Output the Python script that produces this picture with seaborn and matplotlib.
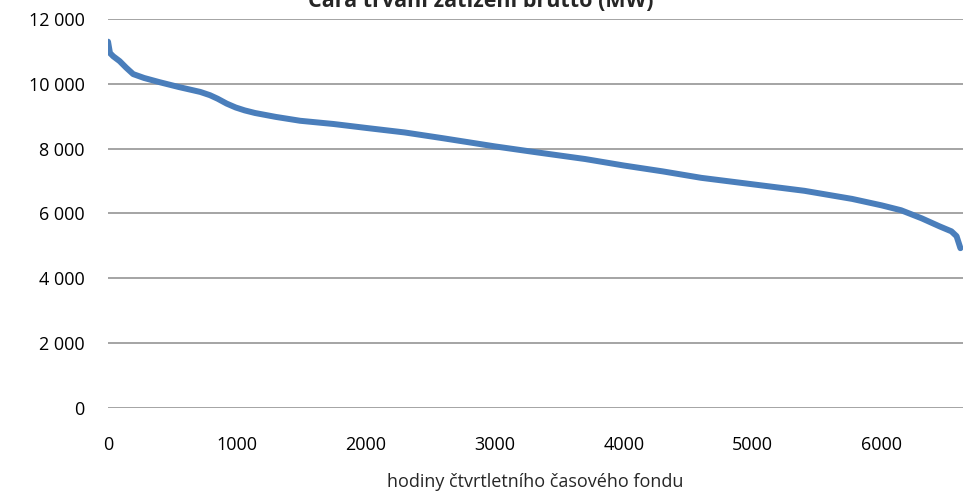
import matplotlib
matplotlib.use("Agg")
import matplotlib.pyplot as plt
import matplotlib.ticker as mticker
import seaborn as sns
import pandas as pd

# hodiny (serazeno) a zatizeni v MW
hodiny = [0, 15, 40, 90, 140, 195, 280, 400, 550, 715, 790, 850, 920, 990, 1060, 1140, 1300, 1490,
          1750, 2000, 2300, 2600, 3000, 3300, 3700, 4000, 4300, 4600, 5000, 5400,
          5770, 6000, 6150, 6310, 6450, 6540, 6580, 6610]
zatizeni = [11300, 10950, 10850, 10700, 10500, 10300, 10180, 10050, 9900, 9750, 9650, 9540, 9390, 9270,
            9180, 9100, 8980, 8860, 8760, 8640, 8500, 8320, 8070, 7900, 7680, 7480, 7300, 7100, 6900,
            6700, 6450, 6250, 6100, 5850, 5600, 5450, 5300, 4930]

df = pd.DataFrame({"hodiny": hodiny, "zatizeni": zatizeni})

sns.set_style("white")
plt.rcParams["font.family"] = ["Open Sans", "DejaVu Sans"]

fig = plt.figure(figsize=(9.75, 4.93), dpi=100)
ax = fig.add_axes([0.1108, 0.1724, 0.8769, 0.7891])

sns.lineplot(data=df, x="hodiny", y="zatizeni", ax=ax, color="#4A7EBB", linewidth=4.3,
             solid_capstyle="round", solid_joinstyle="round", zorder=3)

ax.set_xlim(0, 6630)
ax.set_ylim(0, 12000)
ax.set_xticks([0, 1000, 2000, 3000, 4000, 5000, 6000])
ax.set_yticks(range(0, 12001, 2000))
ax.yaxis.set_major_formatter(mticker.FuncFormatter(lambda v, p: f"{int(v):,}".replace(",", " ")))
ax.grid(axis="y", color="#8C8C8C", linewidth=1.1)
for s in ax.spines.values():
    s.set_visible(False)
ax.tick_params(axis="both", length=0, labelsize=13, colors="black")
ax.tick_params(axis="y", pad=17)
ax.tick_params(axis="x", pad=20)
ax.set_ylabel("")
ax.set_xlabel("hodiny čtvrtletního časového fondu", fontsize=13, labelpad=14)

fig.text(0.493, 1 - 7 / 493, "Čára trvání zatížení brutto (MW)", ha="center", va="baseline",
         fontsize=15.5, fontweight="bold")

fig.savefig("out.png", dpi=100)
